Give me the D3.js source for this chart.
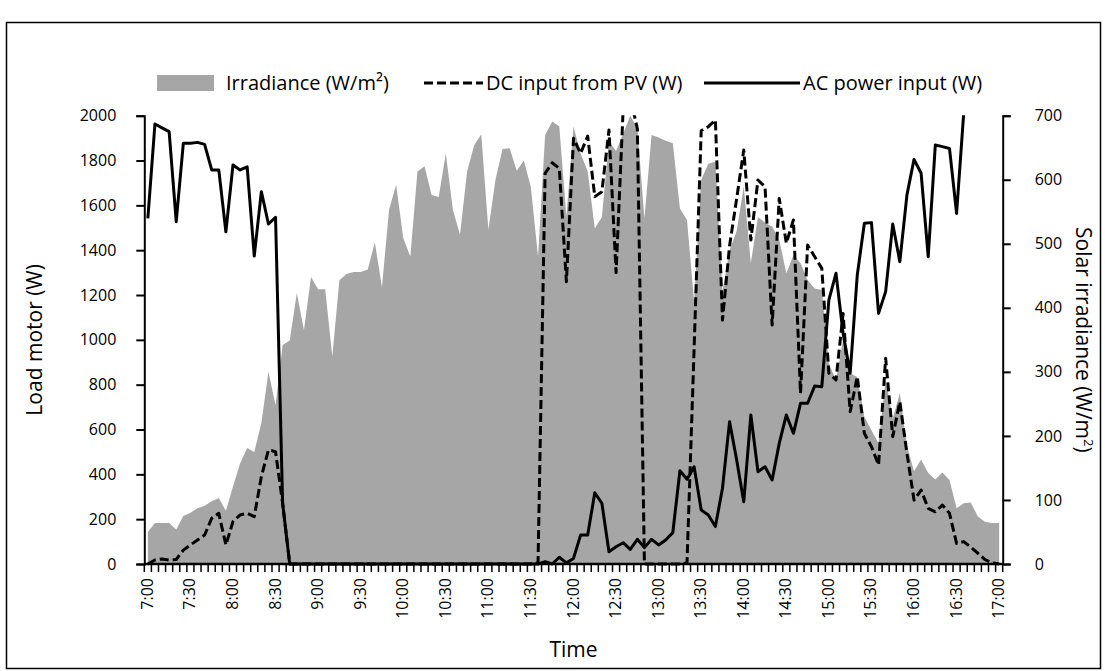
<!DOCTYPE html>
<html>
<head>
<meta charset="utf-8">
<script src="https://cdn.jsdelivr.net/npm/d3@7"></script>
<style>
  body { margin: 0; background: #fff; }
  svg { display: block; }
  text { font-family: "Open Sans", sans-serif; fill: #000; }
</style>
</head>
<body>
<svg id="chart" width="1105" height="671"></svg>
<script>
// Five-minute samples from 7:00 to 17:00 (121 points)
const timeLabels = ["7:00","7:30","8:00","8:30","9:00","9:30","10:00","10:30","11:00","11:30",
  "12:00","12:30","13:00","13:30","14:00","14:30","15:00","15:30","16:00","16:30","17:00"];

const loadTicks = [0,200,400,600,800,1000,1200,1400,1600,1800,2000];
const irrTicks = [0,100,200,300,400,500,600,700];

// Solar irradiance (W/m²)
const irradiance = [
  50,64,64,64,54,75,80,87,91,98,
  103,83,121,157,181,175,220,300,248,342,
  349,423,365,448,429,429,324,443,453,456,
  456,460,502,432,553,592,509,480,613,621,
  576,573,641,553,514,613,654,671,522,600,
  648,649,614,630,588,480,670,691,683,542,
  683,641,613,524,542,660,645,672,700,680,
  540,670,666,661,657,555,537,410,600,625,
  628,425,490,520,590,470,542,533,527,506,
  454,482,470,443,430,428,313,287,350,298,
  292,230,209,188,287,227,267,185,145,163,
  142,132,143,131,87,95,96,74,66,64,
  64
];

// DC input from PV (W)
const dcInput = [
  0,18,22,18,20,62,85,107,129,204,
  226,85,189,219,226,211,390,509,501,271,
  0,0,0,0,0,0,0,0,0,0,
  0,0,0,0,0,0,0,0,0,0,
  0,0,0,0,0,0,0,0,0,0,
  0,0,0,0,0,5,1743,1790,1765,1259,
  1899,1832,1909,1639,1661,1936,1300,2030,2080,1943,
  0,0,0,0,0,0,5,960,1933,1951,
  1981,1088,1420,1630,1847,1445,1713,1683,1066,1631,
  1431,1535,761,1423,1371,1319,851,821,1118,679,
  836,583,523,442,918,568,724,494,285,330,
  248,233,263,226,92,100,75,48,20,5,
  0
];

// AC power input (W)
const acInput = [
  1542,1963,1946,1929,1527,1877,1877,1881,1872,1758,
  1758,1482,1780,1758,1772,1374,1661,1517,1547,270,
  0,0,0,0,0,0,0,0,0,0,
  0,0,0,0,0,0,0,0,0,0,
  0,0,0,0,0,0,0,0,0,0,
  0,0,0,0,0,0,10,0,30,5,
  25,129,129,318,271,55,77,95,65,110,
  73,110,85,107,140,416,378,434,241,219,
  167,338,635,464,278,665,412,434,375,538,
  665,583,717,717,794,791,1178,1297,1029,851,
  1289,1520,1523,1118,1215,1517,1349,1646,1805,1743,
  1371,1869,1862,1854,1564,2010
];

const nPoints = irradiance.length;
const labelEvery = 6;

const svg = d3.select("#chart");

// outer frame
svg.append("rect")
  .attr("x", 6.5).attr("y", 22.5)
  .attr("width", 1094).attr("height", 646)
  .attr("fill", "none").attr("stroke", "#000").attr("stroke-width", 1.5);

const plot = { left: 144.3, right: 1002.7, top: 115.7, bottom: 564 };

const x = d3.scaleLinear().domain([-0.5, nPoints - 0.5]).range([plot.left, plot.right]);
const yL = d3.scaleLinear().domain([0, 2000]).range([plot.bottom, plot.top]);
const yR = d3.scaleLinear().domain([0, 700]).range([plot.bottom, plot.top]);

svg.append("defs").append("clipPath").attr("id", "plotClip")
  .append("rect")
  .attr("x", plot.left).attr("y", plot.top - 0.5)
  .attr("width", plot.right - plot.left).attr("height", plot.bottom - plot.top + 4);

const g = svg.append("g").attr("clip-path", "url(#plotClip)");

// irradiance area on the right-hand scale
const area = d3.area()
  .x((d, i) => x(i))
  .y0(yR(0))
  .y1(d => yR(d));
g.append("path")
  .datum(irradiance)
  .attr("d", area)
  .attr("fill", "#a6a6a6");

// DC input, dashed
const lineL = d3.line().defined(d => d != null).x((d, i) => x(i)).y(d => yL(d));
g.append("path")
  .datum(dcInput)
  .attr("d", lineL)
  .attr("fill", "none")
  .attr("stroke", "#000")
  .attr("stroke-width", 3)
  .attr("stroke-dasharray", "9,4")
  .attr("stroke-linejoin", "round");

// AC power input, solid
g.append("path")
  .datum(acInput)
  .attr("d", lineL)
  .attr("fill", "none")
  .attr("stroke", "#000")
  .attr("stroke-width", 3)
  .attr("stroke-linejoin", "round");

// left axis
const leftAxis = svg.append("g")
  .attr("transform", `translate(${plot.left},0)`)
  .call(d3.axisLeft(yL).tickValues(loadTicks).tickSize(8).tickPadding(20).tickFormat(d3.format("d")));
// right axis
const rightAxis = svg.append("g")
  .attr("transform", `translate(${plot.right},0)`)
  .call(d3.axisRight(yR).tickValues(irrTicks).tickSize(8).tickPadding(24).tickFormat(d3.format("d")));

[leftAxis, rightAxis].forEach(a => {
  a.select(".domain").attr("stroke", "#000").attr("stroke-width", 2);
  a.selectAll(".tick line").attr("stroke", "#000").attr("stroke-width", 2);
  a.selectAll(".tick text").attr("font-size", 16).attr("font-family", "Open Sans").attr("fill", "#000");
});

// bottom axis: a tick between every sample, labels every half hour
const bottom = svg.append("g").attr("transform", `translate(0,${plot.bottom})`);
const boundaries = d3.range(nPoints + 1).map(i => i - 0.5);
bottom.selectAll("line.tk").data(boundaries).join("line")
  .attr("class", "tk")
  .attr("x1", d => x(d)).attr("x2", d => x(d))
  .attr("y1", 0).attr("y2", 8)
  .attr("stroke", "#000").attr("stroke-width", 1.5);
bottom.append("line")
  .attr("x1", plot.left).attr("x2", plot.right)
  .attr("y1", 0).attr("y2", 0)
  .attr("stroke", "#000").attr("stroke-width", 2.5);
bottom.selectAll("text.lbl").data(timeLabels).join("text")
  .attr("class", "lbl")
  .attr("transform", (d, k) => `translate(${x(k * labelEvery) + 5},14) rotate(-90)`)
  .attr("text-anchor", "end")
  .attr("font-size", 16)
  .text(d => d);

// axis titles
svg.append("text")
  .attr("transform", `translate(42,${(plot.top + plot.bottom) / 2}) rotate(-90)`)
  .attr("text-anchor", "middle")
  .attr("font-size", 21)
  .text("Load motor (W)");

const rt = svg.append("text")
  .attr("transform", `translate(1076,${(plot.top + plot.bottom) / 2}) rotate(90)`)
  .attr("text-anchor", "middle")
  .attr("font-size", 21);
rt.append("tspan").text("Solar irradiance (W/m");
rt.append("tspan").attr("font-size", 13).attr("dy", -8).text("2");
rt.append("tspan").attr("dy", 8).text(")");

svg.append("text")
  .attr("x", (plot.left + plot.right) / 2)
  .attr("y", 657)
  .attr("text-anchor", "middle")
  .attr("font-size", 21)
  .text("Time");

// legend
const legY = 83;
const legFont = 20;
const leg = svg.append("g");
leg.append("rect").attr("x", 157).attr("y", legY - 8).attr("width", 57).attr("height", 16).attr("fill", "#a6a6a6");
leg.append("text").attr("x", 226).attr("y", legY + 7).attr("font-size", legFont).text("Irradiance (W/m²)");
leg.append("line").attr("x1", 424).attr("x2", 483).attr("y1", legY).attr("y2", legY)
  .attr("stroke", "#000").attr("stroke-width", 3).attr("stroke-dasharray", "9,4");
leg.append("text").attr("x", 486).attr("y", legY + 7).attr("font-size", legFont).text("DC input from PV (W)");
leg.append("line").attr("x1", 704).attr("x2", 800).attr("y1", legY).attr("y2", legY)
  .attr("stroke", "#000").attr("stroke-width", 3);
leg.append("text").attr("x", 803).attr("y", legY + 7).attr("font-size", legFont).text("AC power input (W)");
</script>
</body>
</html>
